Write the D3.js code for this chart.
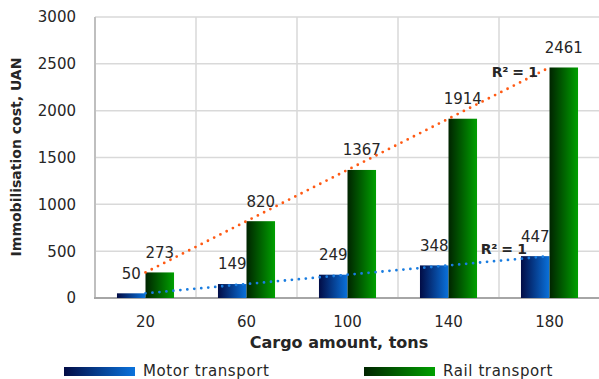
<!DOCTYPE html>
<html>
<head>
<meta charset="utf-8">
<script src="https://cdn.jsdelivr.net/npm/d3@7"></script>
<style>
    body { margin: 0; background: #fff; }
    text { font-family: "DejaVu Sans", sans-serif; fill: #262626; }
</style>
</head>
<body>
<div id="chart"></div>
<script>
var categories = ["20", "60", "100", "140", "180"],
    seriesNames = ["Motor transport", "Rail transport"],
    motorValues = [50, 149, 249, 348, 447],
    railValues = [273, 820, 1367, 1914, 2461],
    yTicks = [0, 500, 1000, 1500, 2000, 2500, 3000];

var width = 599,
    height = 379,
    plotLeft = 95,
    plotRight = 600,
    plotTop = 17,
    plotBottom = 298;

var series = [
    { name: seriesNames[0], values: motorValues, grad: "gMotor", dark: "#020c45", light: "#0a72dc", trend: "#1a7de0", r2dx: -23, r2dy: -7 },
    { name: seriesNames[1], values: railValues, grad: "gRail", dark: "#002400", light: "#00a000", trend: "#ff5a14", r2dx: -12, r2dy: 4 }
];

var svg = d3.select("#chart").append("svg")
    .attr("width", width)
    .attr("height", height);

var defs = svg.append("defs");
series.forEach(function (s) {
    var g = defs.append("linearGradient").attr("id", s.grad)
        .attr("x1", 0).attr("x2", 1).attr("y1", 0).attr("y2", 0);
    g.append("stop").attr("offset", "0%").attr("stop-color", s.dark);
    g.append("stop").attr("offset", "100%").attr("stop-color", s.light);
});

var x = d3.scaleBand()
    .domain(categories)
    .range([plotLeft, plotRight]);

var x1 = d3.scaleBand()
    .domain([0, 1])
    .range([0, x.bandwidth()])
    .paddingOuter(0.77)
    .paddingInner(0);

var y = d3.scaleLinear()
    .domain([0, 3000])
    .range([plotBottom, plotTop]);

// grid
svg.append("g")
    .selectAll("line")
    .data(yTicks.slice(1))
    .enter()
    .append("line")
    .attr("x1", plotLeft).attr("x2", plotRight)
    .attr("y1", function (d) { return y(d); })
    .attr("y2", function (d) { return y(d); })
    .attr("stroke", "#d9d9d9")
    .attr("stroke-width", 1.5);

svg.append("g")
    .selectAll("line")
    .data(categories.slice(1))
    .enter()
    .append("line")
    .attr("x1", function (d) { return x(d); })
    .attr("x2", function (d) { return x(d); })
    .attr("y1", plotTop).attr("y2", plotBottom)
    .attr("stroke", "#d9d9d9")
    .attr("stroke-width", 1.5);

// axes lines
svg.append("line")
    .attr("x1", plotLeft).attr("x2", plotLeft)
    .attr("y1", plotTop).attr("y2", plotBottom)
    .attr("stroke", "#bfbfbf").attr("stroke-width", 2);

svg.append("line")
    .attr("x1", plotLeft - 1).attr("x2", plotRight)
    .attr("y1", plotBottom).attr("y2", plotBottom)
    .attr("stroke", "#a6a6a6").attr("stroke-width", 2);

// y tick labels
svg.append("g")
    .selectAll("text")
    .data(yTicks)
    .enter()
    .append("text")
    .attr("x", plotLeft - 19)
    .attr("y", function (d) { return y(d); })
    .attr("dy", "0.36em")
    .attr("text-anchor", "end")
    .style("font-size", "15px")
    .text(function (d) { return d; });

// x tick labels
svg.append("g")
    .selectAll("text")
    .data(categories)
    .enter()
    .append("text")
    .attr("x", function (d) { return x(d) + x.bandwidth() / 2; })
    .attr("y", 322)
    .attr("dy", "0.36em")
    .attr("text-anchor", "middle")
    .style("font-size", "15px")
    .text(function (d) { return d; });

// bars
series.forEach(function (s, si) {
    var g = svg.append("g");
    g.selectAll("rect")
        .data(s.values)
        .enter()
        .append("rect")
        .attr("x", function (d, i) { return x(categories[i]) + x1(si); })
        .attr("y", function (d) { return y(d); })
        .attr("width", x1.bandwidth())
        .attr("height", function (d) { return plotBottom - y(d); })
        .attr("fill", "url(#" + s.grad + ")");

    g.selectAll("text")
        .data(s.values)
        .enter()
        .append("text")
        .attr("x", function (d, i) { return x(categories[i]) + x1(si) + x1.bandwidth() / 2; })
        .attr("y", function (d) { return y(d) - 20; })
        .attr("dy", "0.36em")
        .attr("text-anchor", "middle")
        .style("font-size", "15px")
        .text(function (d) { return d; });
});

// linear trendlines through category centres
series.forEach(function (s) {
    var pts = s.values.map(function (d, i) { return [x(categories[i]) + x.bandwidth() / 2, d]; });
    var n = pts.length,
        mx = d3.mean(pts, function (p) { return p[0]; }),
        my = d3.mean(pts, function (p) { return p[1]; }),
        sxy = d3.sum(pts, function (p) { return (p[0] - mx) * (p[1] - my); }),
        sxx = d3.sum(pts, function (p) { return (p[0] - mx) * (p[0] - mx); }),
        b = sxy / sxx,
        a = my - b * mx;
    var x0 = pts[0][0], xe = pts[n - 1][0];

    svg.append("line")
        .attr("x1", x0).attr("y1", y(a + b * x0))
        .attr("x2", xe).attr("y2", y(a + b * xe))
        .attr("stroke", s.trend)
        .attr("stroke-width", 2.8)
        .attr("stroke-linecap", "round")
        .attr("stroke-dasharray", "0 7");

    svg.append("text")
        .attr("x", xe + s.r2dx)
        .attr("y", y(a + b * xe) + s.r2dy)
        .attr("dy", "0.36em")
        .attr("text-anchor", "end")
        .style("font-size", "14px")
        .style("font-weight", "bold")
        .style("letter-spacing", "-0.4px")
        .text("R² = 1");
});

// axis titles
svg.append("text")
    .attr("transform", "translate(16,157) rotate(-90)")
    .attr("dy", "0.36em")
    .attr("text-anchor", "middle")
    .style("font-size", "14px")
    .style("font-weight", "bold")
    .text("Immobilisation cost, UAN");

svg.append("text")
    .attr("x", 339)
    .attr("y", 342)
    .attr("dy", "0.36em")
    .attr("text-anchor", "middle")
    .style("font-size", "16px")
    .style("font-weight", "bold")
    .text("Cargo amount, tons");

// legend
var legend = svg.append("g")
    .selectAll("g")
    .data(series)
    .enter()
    .append("g")
    .attr("transform", function (d, i) { return "translate(" + (64 + i * 300) + ",367)"; });

legend.append("rect")
    .attr("width", 71)
    .attr("height", 9)
    .attr("fill", function (d) { return "url(#" + d.grad + ")"; });

legend.append("text")
    .attr("x", 79)
    .attr("y", 3.5)
    .attr("dy", "0.34em")
    .style("font-size", "15px")
    .style("letter-spacing", "0.6px")
    .text(function (d) { return d.name; });
</script>
</body>
</html>
